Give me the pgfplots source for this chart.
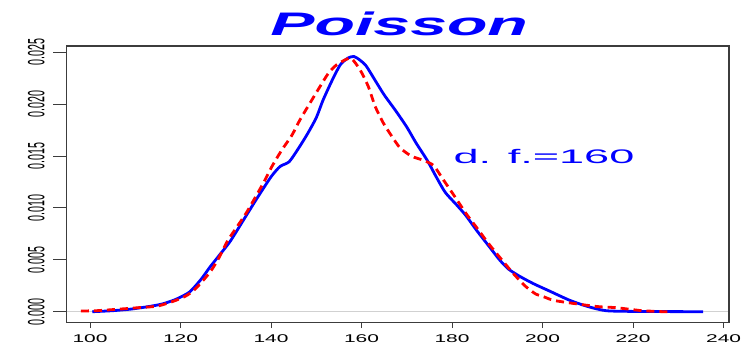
\documentclass[border=0pt]{standalone}
\usepackage{fontspec}
\setmainfont{Liberation Sans}
\usepackage{graphicx}
\usepackage{pgfplots}
\pgfplotsset{compat=1.18}
\definecolor{rblue}{RGB}{0,0,255}
\definecolor{rred}{RGB}{255,0,0}
\definecolor{boxc}{RGB}{60,60,60}
\newcommand{\xl}[1]{\scalebox{1.87}[1]{\fontsize{11.2bp}{12bp}\selectfont #1}}
\newcommand{\yl}[1]{\scalebox{1}[2.2]{\fontsize{10.7bp}{12bp}\selectfont #1}}
\begin{document}
\begin{tikzpicture}[x=1bp,y=1bp]
\begin{axis}[
  at={(66.7bp,29.7bp)}, anchor=south west,
  width=662.3bp, height=276.3bp, scale only axis,
  xmin=94.85, xmax=241.2, ymin=-0.00102, ymax=0.02561,
  axis line style={boxc, line width=1.3bp},
  xtick={100,120,140,160,180,200,220,240},
  xticklabels={\xl{100},\xl{120},\xl{140},\xl{160},\xl{180},\xl{200},\xl{220},\xl{240}},
  ytick=\empty,
  tick align=outside, xtick pos=bottom,
  major tick length=5.7bp,
  xtick style={boxc, line width=1bp},
  xticklabel style={anchor=north, inner sep=0pt},
  xticklabel shift=6.7bp,
  clip=false,
]
\addplot[black!18, line width=1.5bp] coordinates {(94.85,0) (241.2,0)};
\addplot[rblue, line width=2.8bp, smooth, tension=0.4] coordinates {
(100.5,0.0000) (105,0.0001) (109,0.00025) (113,0.0005) (116,0.00075) (119,0.0012)
(122,0.0019) (124.5,0.0031) (126.5,0.0043) (128.5,0.0054) (131,0.0068) (134,0.0089)
(137,0.0110) (140,0.0130) (142,0.0140) (144,0.01445) (146,0.0157) (148,0.0171)
(150,0.0187) (151.5,0.0204) (153.5,0.0223) (155.3,0.0238) (157,0.02445) (158.3,0.0246)
(159.5,0.0243) (161,0.0237) (163,0.0223) (165,0.0209) (167.5,0.0194) (170,0.0178)
(172,0.0163) (174.5,0.0146) (176.5,0.0130) (178.5,0.0115) (181,0.0103) (183,0.0093)
(185.5,0.0078) (188,0.0064) (190.5,0.0050) (192.5,0.0041) (195,0.0034) (198,0.0027)
(201.5,0.0020) (206,0.0011) (210,0.0005) (214,0.0001) (220,0.00003) (235.5,0.0)
};
\addplot[rred, line width=2.8bp, dash pattern=on 8bp off 5bp, smooth, tension=0.4] coordinates {
(98,0.00007) (101.5,0.0001) (106.5,0.00025) (111,0.0004) (115,0.00055) (119,0.0011)
(121.5,0.0016) (123.5,0.0023) (126.5,0.0038) (128.5,0.0052) (130.5,0.0069) (134.5,0.0095)
(138.3,0.0124) (140.2,0.0140) (142.4,0.0156) (144.6,0.0170) (146.4,0.0185) (148.6,0.0201)
(150.4,0.0214) (152.7,0.0230) (154.5,0.0238) (156.5,0.0243) (157.8,0.0244) (159.7,0.0233)
(161.5,0.0217) (163,0.0198) (164.8,0.0182) (166.7,0.0169) (168.5,0.0158) (171,0.0150)
(173.6,0.0146) (175.9,0.0141) (178.1,0.0127) (180.6,0.0111) (183.2,0.0094) (185.8,0.0079)
(188,0.0066) (191,0.0050) (193.5,0.0037) (196.1,0.0025) (198.5,0.0017) (200.2,0.00145)
(202.4,0.0011) (206.8,0.0008) (212,0.0005) (216,0.0004) (219,0.00025) (222,0.0001)
(226.7,0.0) (228.6,0.0)
};
\draw[boxc, line width=1.3bp] (rel axis cs:0,0) rectangle (rel axis cs:1,1);
\end{axis}
\begin{axis}[
  at={(66.7bp,29.7bp)}, anchor=south west,
  width=662.3bp, height=276.3bp, scale only axis,
  xmin=94.85, xmax=241.2, ymin=-0.00102, ymax=0.02561,
  axis line style={draw=none},
  xtick=\empty,
  scaled y ticks=false,
  ytick={0,0.005,0.010,0.015,0.020,0.025},
  yticklabels={\yl{0.000},\yl{0.005},\yl{0.010},\yl{0.015},\yl{0.020},\yl{0.025}},
  tick align=outside, ytick pos=left,
  major tick length=13.3bp,
  ytick style={boxc, line width=1bp},
  yticklabel style={rotate=90, anchor=south, inner sep=0pt},
  yticklabel shift=8.5bp,
]
\end{axis}
\node[anchor=base, inner sep=0pt, text=rblue] at (399.2,317)
  {\scalebox{2.03}[1]{\fontsize{32.6bp}{36bp}\selectfont\bfseries\itshape Poisson}};
\node[anchor=base west, inner sep=0pt, text=rblue] at (453.3,188.7)
  {\scalebox{2.3}[1]{\fontsize{19.6bp}{22bp}\selectfont d. f.=160}};
\pgfresetboundingbox
\path[use as bounding box] (0,0) rectangle (749,352);
\end{tikzpicture}
\end{document}
